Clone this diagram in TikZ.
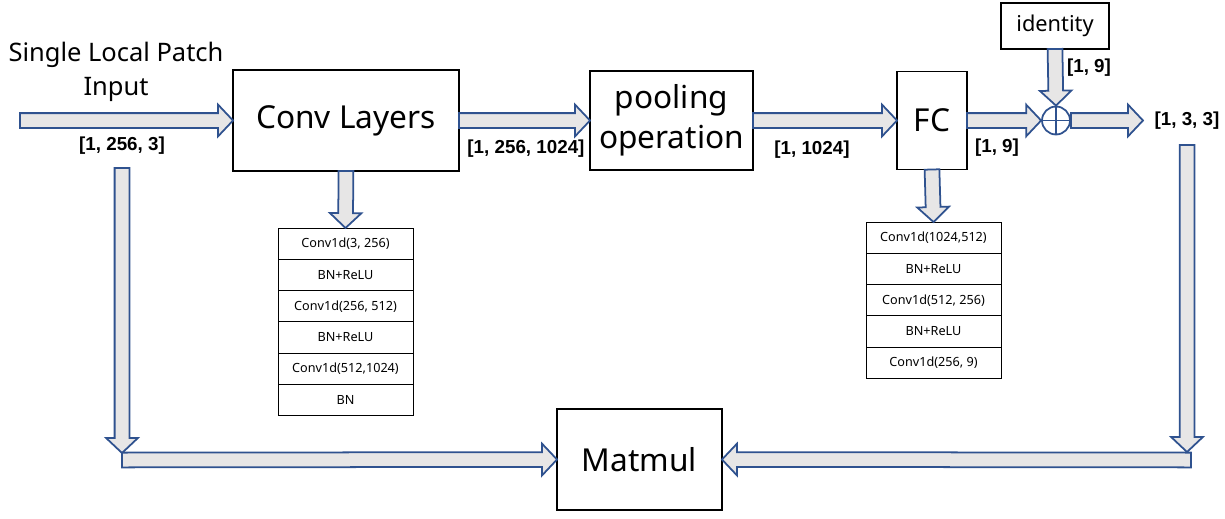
\documentclass[tikz,border=0pt]{standalone}
\usepackage{fontspec}
\setmainfont{Noto Sans}
\newfontfamily\lblfont{Liberation Sans}
\usetikzlibrary{positioning,calc}

\definecolor{arrowfill}{RGB}{231,230,230}
\definecolor{arrowline}{RGB}{47,82,143}

\tikzset{
  blockbox/.style={draw, line width=1.1pt, inner sep=0pt, outer sep=0pt, align=center,
    font=\fontsize{18}{23}\selectfont},
  tabrow/.style={draw, line width=0.5pt, minimum width=2.7cm, minimum height=0.626cm,
    inner sep=0pt, outer sep=0pt, font=\fontsize{7.2}{8}\selectfont},
  dimlabel/.style={font=\lblfont\bfseries\fontsize{10.7}{12}\selectfont, inner sep=0pt},
  fatarr/.style={draw=arrowline, fill=arrowfill, line width=1pt, line join=miter},
}

% block arrow from #1 to #2 (tip at #2)
\newcommand{\fatarrow}[2]{%
  \draw[fatarr] let \p1=(#1), \p2=(#2),
      \n1={atan2(\y2-\y1,\x2-\x1)}, \n2={veclen(\x2-\x1,\y2-\y1)-8.5pt} in
    ($(\p1)+(\n1-90:4.2pt)$) -- ($(\p1)+(\n1:\n2)+(\n1-90:4.2pt)$)
    -- ($(\p1)+(\n1:\n2)+(\n1-90:9pt)$) -- (\p2)
    -- ($(\p1)+(\n1:\n2)+(\n1+90:9pt)$) -- ($(\p1)+(\n1:\n2)+(\n1+90:4.2pt)$)
    -- ($(\p1)+(\n1+90:4.2pt)$) -- cycle;}

\begin{document}
\begin{tikzpicture}[x=0.02cm,y=-0.02cm]
\useasboundingbox (0,0) rectangle (1225,518);

% main blocks
\node[blockbox, minimum width=4.52cm, minimum height=2.02cm] (conv) at (346,120.5) {Conv Layers};
\node[blockbox, minimum width=3.26cm, minimum height=1.98cm] (pool) at (671.5,120.5) {pooling\\operation};
\node[blockbox, minimum width=1.4cm, minimum height=1.96cm] (fc) at (932,120.5) {FC};
\node[blockbox, minimum width=2.16cm, minimum height=0.92cm, font=\fontsize{12.4}{14}\selectfont] (ident) at (1055,26) {identity};
\node[blockbox, minimum width=3.3cm, minimum height=2.02cm] (matmul) at (639.5,459.5) {Matmul};
\node[circle, draw=arrowline, fill=white, line width=1pt, minimum size=0.56cm, inner sep=0pt,
  path picture={\draw[arrowline, line width=0.8pt]
    (path picture bounding box.north) -- (path picture bounding box.south)
    (path picture bounding box.west) -- (path picture bounding box.east);}] (sum) at (1056,120.5) {};

\node[align=center, font=\fontsize{14.5}{19.3}\selectfont] (title) at (116,72) {Single Local Patch\\Input};

% conv layer table
\node[tabrow, anchor=north] (ca1) at (345.5,228) {Conv1d(3, 256)};
\node[tabrow, below=0pt of ca1] (ca2) {BN+ReLU};
\node[tabrow, below=0pt of ca2] (ca3) {Conv1d(256, 512)};
\node[tabrow, below=0pt of ca3] (ca4) {BN+ReLU};
\node[tabrow, below=0pt of ca4] (ca5) {Conv1d(512,1024)};
\node[tabrow, below=0pt of ca5] (ca6) {BN};

% fc table
\node[tabrow, anchor=north] (fb1) at (933.5,222) {Conv1d(1024,512)};
\node[tabrow, below=0pt of fb1] (fb2) {BN+ReLU};
\node[tabrow, below=0pt of fb2] (fb3) {Conv1d(512, 256)};
\node[tabrow, below=0pt of fb3] (fb4) {BN+ReLU};
\node[tabrow, below=0pt of fb4] (fb5) {Conv1d(256, 9)};

% free ends of the arrows
\coordinate (in) at (20,120.5);
\coordinate (out) at (1143,120.5);
\coordinate (lvtop) at (122,168);
\coordinate (lvbot) at (122,453);
\coordinate (lhstart) at (122,460);
\coordinate (rvtop) at (1187,145);
\coordinate (rvbot) at (1187,452);
\coordinate (rhstart) at (1191,460);

% arrows
\fatarrow{in}{conv.west}
\fatarrow{conv.east}{pool.west}
\fatarrow{pool.east}{fc.west}
\fatarrow{fc.east}{sum.west}
\fatarrow{ident.south}{sum.north}
\fatarrow{sum.east}{out}
\fatarrow{conv.south}{ca1.north}
\fatarrow{fc.south}{fb1.north}
\fatarrow{lvtop}{lvbot}
\fatarrow{lhstart}{matmul.west}
\fatarrow{rvtop}{rvbot}
\fatarrow{rhstart}{matmul.east}

% shapes
\node[dimlabel] (d1) at (122,146) {[1, 256, 3]};
\node[dimlabel] (d2) at (526,149) {[1, 256, 1024]};
\node[dimlabel] (d3) at (812,150) {[1, 1024]};
\node[dimlabel] (d4) at (997,148) {[1, 9]};
\node[dimlabel] (d5) at (1089,68) {[1, 9]};
\node[dimlabel] (d6) at (1187,121) {[1, 3, 3]};
\end{tikzpicture}
\end{document}
